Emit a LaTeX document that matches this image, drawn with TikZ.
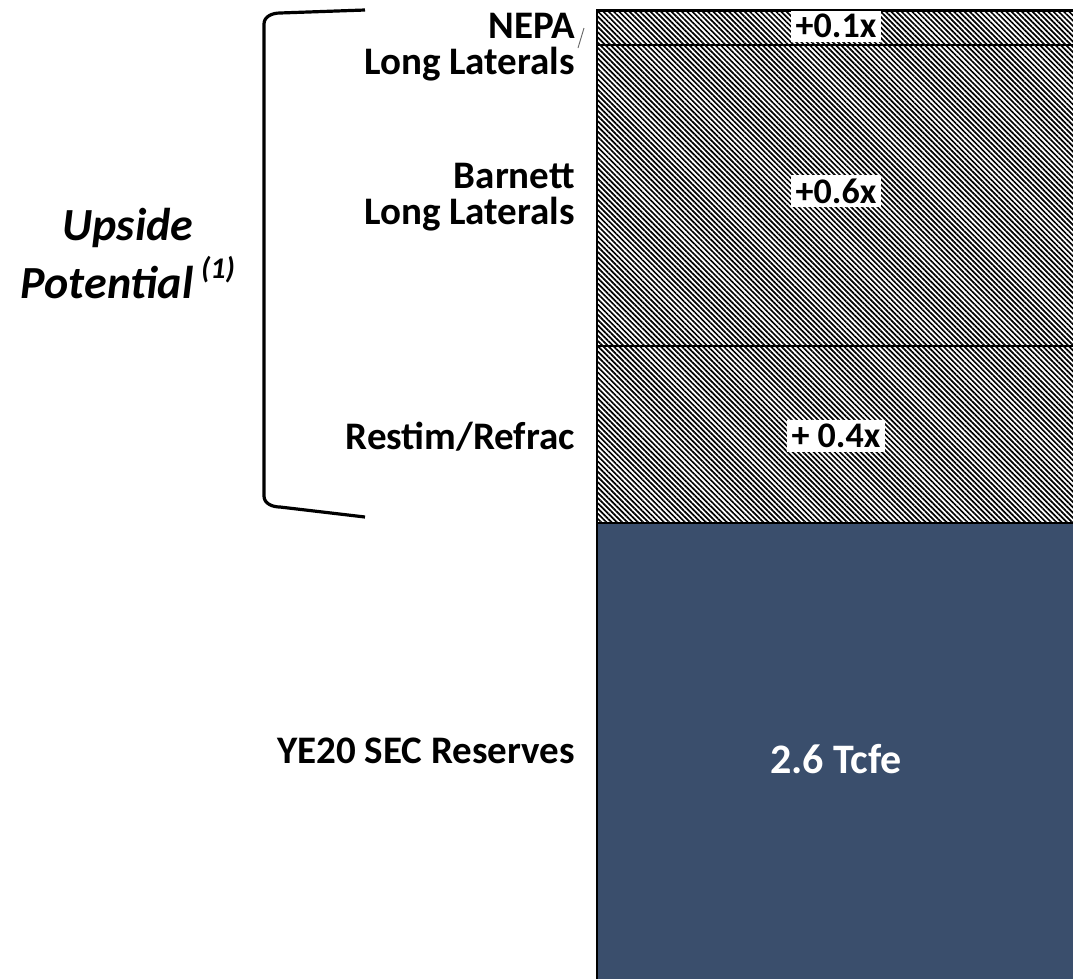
\documentclass[tikz,border=0pt]{standalone}
\usepackage{fontspec}
\setmainfont{Carlito}
\usetikzlibrary{calc}
\usetikzlibrary{positioning,patterns.meta}
\definecolor{reserveblue}{RGB}{58,78,108}

\begin{document}
\begin{tikzpicture}[x=1pt,y=-1pt, every node/.style={font=\bfseries\fontsize{39}{36}\selectfont}]
    \tikzset{hatchseg/.style={draw,line width=2.4pt,pattern={Lines[angle=135,distance=3.7pt,line width=1.7pt]},inner sep=0pt,anchor=north west}}
    \tikzset{blueseg/.style={draw,line width=2.4pt,fill=reserveblue,inner sep=0pt,anchor=north west}}
    \tikzset{vlabel/.style={fill=white,inner xsep=5pt,inner ysep=4pt,font=\bfseries\fontsize{36}{42}\selectfont}}
    \tikzset{slabel/.style={anchor=east,align=right,inner sep=0pt}}
    \useasboundingbox (0,0) rectangle (1073,978);

    % Bar
    \node[hatchseg,minimum width=480pt,minimum height=34pt] (nepa) at (596,10) {};
    \node[hatchseg,minimum width=480pt,minimum height=301pt] (barnett) at (596,44) {};
    \node[hatchseg,minimum width=480pt,minimum height=177pt] (restim) at (596,345) {};
    \node[blueseg,minimum width=480pt,minimum height=460pt] (sec) at (596,522) {};

    \node[vlabel] (nepaval) at (836,26) {+0.1x};
    \node[vlabel] (barnettval) at (836,191) {+0.6x};
    \node[vlabel] (restimval) at (836,436) {+ 0.4x};
    \node[white,font=\bfseries\fontsize{42}{50}\selectfont] (secval) at (836,759) {2.6 Tcfe};
    \draw[line width=2.4pt] (nepa.north west) -- (nepa.north east);

    % Labels
    \node[slabel] (nepalab) at (575,47) {NEPA\\Long Laterals};
    \node[slabel] (barnettlab) at (575,197) {Barnett\\Long Laterals};
    \node[slabel] (restimlab) at (575,437) {Restim/Refrac};
    \node[slabel] (seclab) at (575,751) {YE20 SEC Reserves};
    \coordinate (leadfoot) at (578,48);
    \draw[gray!80!black,line width=0.9pt] (leadfoot) -- (584,28) coordinate (leadtop);

    % Bracket
    \draw[line width=3.2pt] (365,10) -- (280,13) to[out=180,in=90] (264,24) -- (264,496) to[out=-90,in=180] (280,507) -- (365,517);
    \node[align=center,font=\bfseries\itshape\fontsize{46}{58}\selectfont] (upside) at (128,254) {Upside\\Potential\,\raisebox{0.45em}{\fontsize{30}{30}\selectfont (1)}};
\end{tikzpicture}
\end{document}
